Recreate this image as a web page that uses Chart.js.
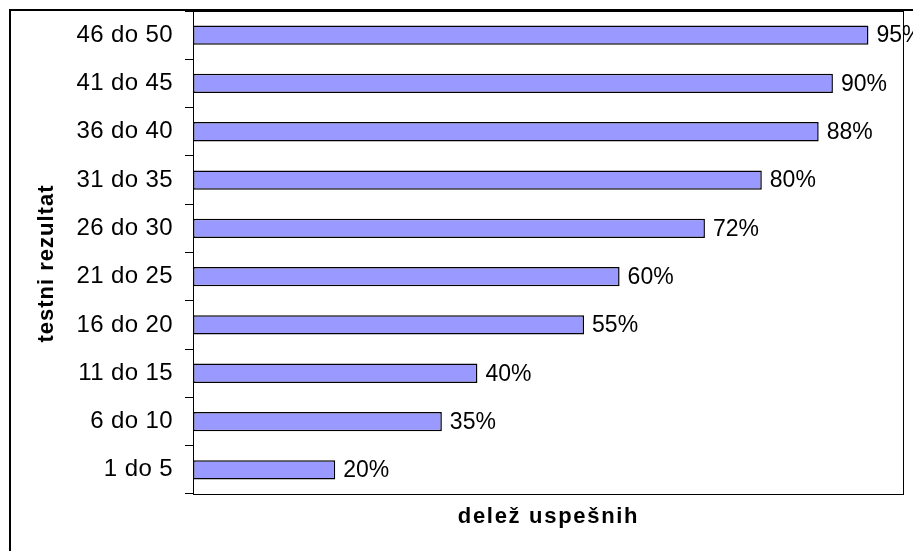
<!DOCTYPE html>
<html>
<head>
<meta charset="utf-8">
<script src="https://cdn.jsdelivr.net/npm/chart.js@4/dist/chart.umd.min.js"></script>
<style>
    body { margin: 0; background: #fff; }
    canvas { display: block; }
</style>
</head>
<body>
<canvas id="graf" width="913" height="551"></canvas>
<script>
const kategorije = ['46 do 50', '41 do 45', '36 do 40', '31 do 35', '26 do 30', '21 do 25', '16 do 20', '11 do 15', '6 do 10', '1 do 5'];
const delezi = [95, 90, 88, 80, 72, 60, 55, 40, 35, 20];
const naslovX = 'delež uspešnih';
const naslovY = 'testni rezultat';

const pisava = "'Liberation Sans', Arial, sans-serif";

// okvir, naslova osi in oznake vrednosti
const okvir = {
    id: 'okvir',
    beforeDraw(chart) {
        chart.ctx.letterSpacing = '0.4px';
    },
    afterDraw(chart) {
        const ctx = chart.ctx;
        const a = chart.chartArea;
        ctx.save();
        ctx.strokeStyle = '#000';
        ctx.lineWidth = 1;
        ctx.strokeRect(Math.round(a.left) + 0.5, Math.round(a.top) + 0.5, Math.round(a.right - a.left) - 1, Math.round(a.bottom - a.top));
        ctx.lineWidth = 2;
        ctx.beginPath();
        ctx.moveTo(10, 551);
        ctx.lineTo(10, 10);
        ctx.lineTo(913, 10);
        ctx.stroke();

        ctx.fillStyle = '#000';
        ctx.font = '23px ' + pisava;
        ctx.letterSpacing = '0px';
        ctx.textAlign = 'left';
        ctx.textBaseline = 'middle';
        chart.getDatasetMeta(0).data.forEach((bar, i) => {
            ctx.fillText(delezi[i] + '%', bar.x + 8, bar.y + 1);
        });

        ctx.font = 'bold 22px ' + pisava;
        ctx.letterSpacing = '1.7px';
        ctx.textAlign = 'center';
        ctx.fillText(naslovX, (a.left + a.right) / 2, a.bottom + 23);

        ctx.letterSpacing = '1px';
        ctx.translate(a.left - 146, (a.top + a.bottom) / 2 + 11);
        ctx.rotate(-Math.PI / 2);
        ctx.fillText(naslovY, 0, 0);
        ctx.restore();
    }
};

new Chart(document.getElementById('graf').getContext('2d'), {
    type: 'bar',
    data: {
        labels: kategorije,
        datasets: [{
            data: delezi,
            backgroundColor: '#9999FF',
            borderColor: '#000',
            borderWidth: 1.5,
            borderSkipped: false,
            barPercentage: 0.4,
            categoryPercentage: 1.0
        }]
    },
    options: {
        indexAxis: 'y',
        responsive: false,
        animation: false,
        layout: {
            padding: { top: 11, right: 9, bottom: 57, left: 0 }
        },
        plugins: {
            legend: { display: false },
            tooltip: { enabled: false }
        },
        scales: {
            x: {
                min: 0,
                max: 100,
                display: false
            },
            y: {
                grid: {
                    drawOnChartArea: false,
                    tickLength: 8,
                    color: '#000',
                    offset: true
                },
                border: { display: true, color: '#000', width: 1 },
                ticks: {
                    color: '#000',
                    padding: 12,
                    font: { family: pisava, size: 24 }
                },
                afterFit: s => {
                    s.width = 193;
                    s.paddingTop = 0;
                    s.paddingBottom = 0;
                }
            }
        }
    },
    plugins: [okvir]
});
</script>
</body>
</html>
